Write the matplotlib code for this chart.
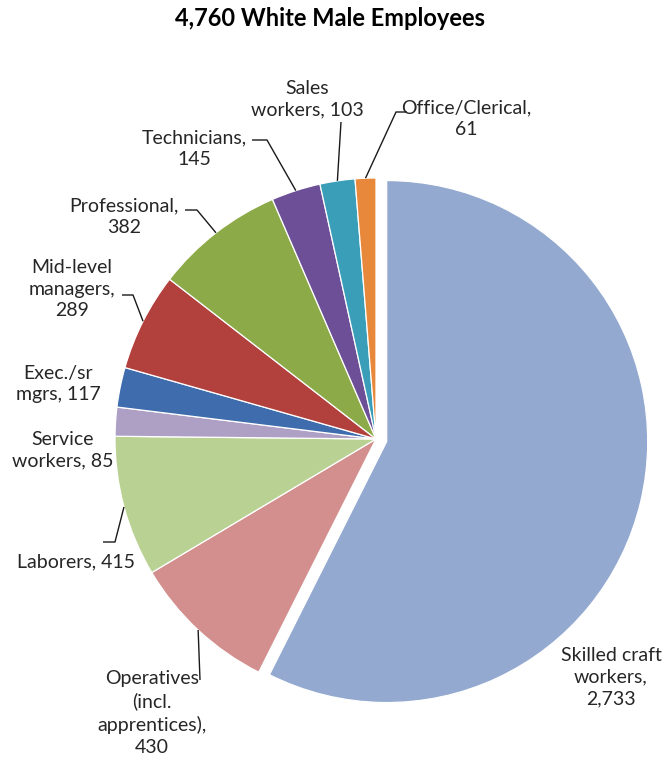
import numpy as np
import matplotlib
matplotlib.use("Agg")
import matplotlib.pyplot as plt

# ---- data ----
categories = ["Skilled craft workers", "Operatives (incl. apprentices)", "Laborers",
              "Service workers", "Exec./sr mgrs", "Mid-level managers", "Professional",
              "Technicians", "Sales workers", "Office/Clerical"]
values = [2733, 430, 415, 85, 117, 289, 382, 145, 103, 61]
label_templates = ["Skilled craft\nworkers,\n{}", "Operatives\n(incl.\napprentices),\n{}",
                   "Laborers, {}", "Service\nworkers, {}", "Exec./sr\nmgrs, {}",
                   "Mid-level\nmanagers,\n{}", "Professional,\n{}", "Technicians,\n{}",
                   "Sales\nworkers, {}", "Office/Clerical,\n{}"]
colors = ["#93A9D0", "#D38F8D", "#BAD194", "#AE9FC5", "#3E6CAD",
          "#B2403D", "#8CAB48", "#6C4F96", "#3A9EB8", "#E8883A"]
title = "{:,} White Male Employees".format(sum(values))

# ---- layout (pixel space, y measured from top) ----
W, H = 666, 764
cx, cy, R = 376, 439, 261
explode = [11, 0, 0, 0, 0, 0, 0, 0, 0, 0]
label_pos = [(611, 677), (152, 713), (76, 562), (63, 450), (58, 384),
             (72, 289), (124, 217), (194, 149), (307, 99), (466, 119)]
# leader start points (None = no leader)
leader_start = [None, [(200, 680)], [(103, 542), (115, 542)], None, None,
                [(122, 295), (133, 295)], [(185, 210), (197, 210)],
                [(252, 140), (267, 140)], [(341, 122)], [(407, 112), (396, 112)]]

fig = plt.figure(figsize=(W / 100, H / 100), dpi=100)
ax = fig.add_axes([0, 0, 1, 1])
ax.set_xlim(0, W)
ax.set_ylim(0, H)
ax.set_aspect("equal")
ax.axis("off")

def Y(y):
    return H - y

wedges, _ = ax.pie(values, colors=colors, startangle=90, counterclock=False,
                   center=(cx, Y(cy)), radius=R, explode=explode,
                   wedgeprops=dict(edgecolor="white", linewidth=0.9))
ax.set_xlim(0, W)
ax.set_ylim(0, H)

total = float(sum(values))
cum = np.cumsum([0] + values)
font = "Lato"
for i, v in enumerate(values):
    txt = label_templates[i].format("{:,}".format(v))
    x, y = label_pos[i]
    ax.text(x, Y(y), txt, ha="center", va="center", fontsize=14, family=font,
            color="#262626", linespacing=1.35)
    if leader_start[i] is not None:
        mid = (cum[i] + cum[i + 1]) / 2.0 / total * 2 * np.pi
        ex = cx + explode[i] * np.sin(mid) + R * np.sin(mid)
        ey = Y(cy) + explode[i] * np.cos(mid) + R * np.cos(mid)
        pts = [(px, Y(py)) for px, py in leader_start[i]] + [(ex, ey)]
        xs, ys = zip(*pts)
        ax.plot(xs, ys, color="#1a1a1a", linewidth=1.0, solid_capstyle="butt")

fig.text(330 / W, 1 - 18 / H, title, ha="center", va="center", fontsize=17,
         fontweight="bold", family=font, color="black")

fig.savefig("out.png", dpi=100, facecolor="white")
